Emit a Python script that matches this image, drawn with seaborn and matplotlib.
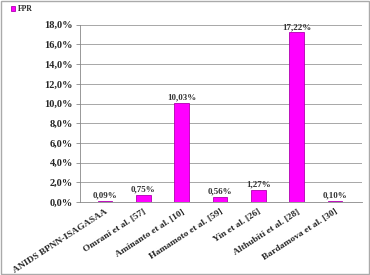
import numpy as np
import pandas as pd
import matplotlib
matplotlib.use("Agg")
import matplotlib.pyplot as plt
import seaborn as sns

metodos = ["ANIDS BPNN-ISAGASAA", "Omrani et al. [57]", "Aminanto et al. [10]",
           "Hamamoto et al. [59]", "Yin et al. [26]", "Althubiti et al. [28]",
           "Bardamova et al. [30]"]
fpr = [0.09, 0.75, 10.03, 0.56, 1.27, 17.22, 0.10]
rotulos = ["0,09%", "0,75%", "10,03%", "0,56%", "1,27%", "17,22%", "0,10%"]
yticks = [0, 2, 4, 6, 8, 10, 12, 14, 16, 18]

sns.set_style("white")
plt.rcParams['font.family'] = ['Liberation Serif', 'DejaVu Serif']

df = pd.DataFrame({"Metodo": metodos, "FPR": fpr})

fig = plt.figure(figsize=(3.7, 2.75), dpi=100)
ax = fig.add_axes([0.216, 0.265, 0.762, 0.645])
sns.barplot(data=df, x="Metodo", y="FPR", color="#FF00FF", width=0.38,
            edgecolor="#B000B0", linewidth=0.6, saturation=1, ax=ax, label="FPR")

for p, txt in zip(ax.patches, rotulos):
    ax.annotate(txt, (p.get_x() + p.get_width() / 2., p.get_height()),
                ha='center', va='bottom', xytext=(0, 1), textcoords='offset points',
                fontsize=6.5, fontweight='bold', color="#333333")

ax.set_ylim(0, 18)
ax.set_yticks(yticks)
ax.set_yticklabels([f"{v},0%" for v in yticks], fontsize=7.5, fontweight='bold')
ax.set_xticks(range(len(metodos)))
ax.set_xticklabels(metodos, rotation=33, ha='right', rotation_mode='anchor',
                   fontsize=6.8, fontweight='bold')
ax.tick_params(axis='x', length=0, pad=4)
ax.tick_params(axis='y', length=3, left=True, width=0.6, pad=2, color="#888888")
ax.grid(axis='y', color="#999999", linewidth=0.6)
ax.set_axisbelow(True)
ax.set_xlabel("")
ax.set_ylabel("")
for s in ["top", "right"]:
    ax.spines[s].set_visible(False)
ax.spines["left"].set_color("#888888")
ax.spines["bottom"].set_color("#888888")
ax.spines["left"].set_linewidth(0.6)
ax.spines["bottom"].set_linewidth(0.6)
ax.set_xlim(-0.65, len(metodos) - 0.3)

leg = ax.legend(loc='upper left', bbox_to_anchor=(-0.27, 1.15), frameon=False,
                handlelength=0.6, handleheight=0.6, handletextpad=0.4,
                prop={'weight': 'bold', 'size': 5.5})

border = plt.Rectangle((0.003, 0.003), 0.994, 0.994, transform=fig.transFigure,
                       fill=False, edgecolor="#AAAAAA", linewidth=1)
fig.patches.append(border)

fig.savefig("out.png", dpi=100)
